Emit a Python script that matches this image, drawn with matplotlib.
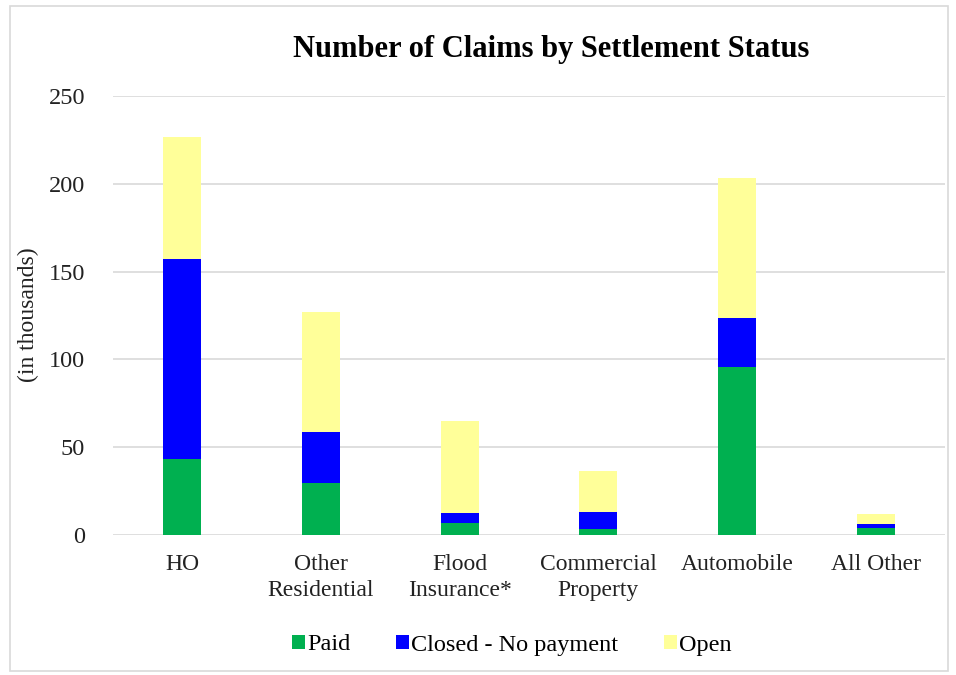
import matplotlib.pyplot as plt
from matplotlib.patches import Rectangle
import numpy as np

categories = ['HO', 'Other\nResidential', 'Flood\nInsurance*', 'Commercial\nProperty', 'Automobile', 'All Other']
paid = [43.5, 29.5, 7.0, 3.5, 95.5, 4.0]
closed_no_pay = [113.5, 29.0, 5.5, 9.5, 28.0, 2.5]
open_claims = [69.5, 68.5, 52.5, 23.5, 80.0, 5.5]

plt.rcParams['font.family'] = ['Liberation Serif', 'DejaVu Serif']

fig = plt.figure(figsize=(9.56, 6.75), dpi=100)
ax = fig.add_axes([113 / 956, 1 - 535 / 675, 832 / 956, 439 / 675])

x = np.arange(len(categories))
w = 0.275
b1 = np.array(paid)
b2 = b1 + np.array(closed_no_pay)
ax.bar(x, paid, w, color='#00B050', label='Paid', zorder=3)
ax.bar(x, closed_no_pay, w, bottom=b1, color='#0000FF', label='Closed - No payment', zorder=3)
ax.bar(x, open_claims, w, bottom=b2, color='#FFFF99', label='Open', zorder=3)

ax.set_xlim(-0.5, len(categories) - 0.5)
ax.set_ylim(0, 250)
ax.set_yticks([0, 50, 100, 150, 200, 250])
ax.grid(axis='y', color='#d9d9d9', linewidth=1.2, zorder=0)
for s in ax.spines.values():
    s.set_visible(False)
ax.tick_params(axis='both', length=0, colors='#222222')
ax.tick_params(axis='y', pad=20, labelsize=17.5)
ax.tick_params(axis='x', pad=14, labelsize=17)
ax.set_xticks(x)
ax.set_xticklabels(categories, linespacing=1.3)

fig.text(28 / 956, 1 - 315 / 675, '(in thousands)', rotation=90,
         ha='center', va='center', fontsize=17, color='#222222')

fig.text(551 / 956, 1 - 50 / 675, 'Number of Claims by Settlement Status',
         ha='center', va='center', fontsize=22, fontweight='bold')

fig.legend(loc='center', bbox_to_anchor=(512 / 956, 1 - 645 / 675), ncol=3,
           frameon=False, fontsize=17.5, handlelength=0.5, handleheight=0.5,
           handletextpad=0.1, columnspacing=1.9)

fig.patches.append(Rectangle((10 / 956, 4 / 675), 938 / 956, 665 / 675,
                             transform=fig.transFigure, fill=False,
                             edgecolor='#d9d9d9', linewidth=1.2))

fig.savefig('out.png', dpi=100)
